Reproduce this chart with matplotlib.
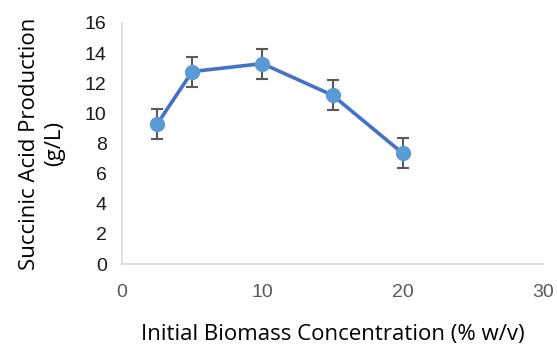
"""
Succinic acid production vs initial biomass concentration
"""
import matplotlib
matplotlib.use('Agg')
import matplotlib.pyplot as plt

#Data
biomass = [2.5, 5, 10, 15, 20]
succinic = [9.28, 12.77, 13.3, 11.2, 7.35]
err = [1.0, 1.0, 1.0, 1.0, 1.0]

x_ticks = [0, 10, 20, 30]
y_ticks = [0, 2, 4, 6, 8, 10, 12, 14, 16]

fig = plt.figure(figsize=(5.57, 3.47), dpi=100)
ax = fig.add_axes([0.219, 0.239, 0.756, 0.695])

ax.errorbar(biomass, succinic, yerr=err, color='#4472C4', lw=2.6,
            marker='o', ms=10, mfc='#5B9BD5', mec='#5B9BD5',
            ecolor='#595959', elinewidth=1.5, capsize=4, capthick=1.5, zorder=3)

ax.set_xlim(0, 30)
ax.set_ylim(0, 16)
ax.set_xticks(x_ticks)
ax.set_yticks(y_ticks)
ax.tick_params(length=0, labelsize=14, labelcolor='#595959')
ax.tick_params(axis='x', pad=14)
ax.tick_params(axis='y', labelcolor='#1a1a1a', pad=11)
for lab in ax.get_xticklabels() + ax.get_yticklabels():
	lab.set_family('Liberation Sans')

for s in ['top', 'right']:
	ax.spines[s].set_visible(False)
for s in ['left', 'bottom']:
	ax.spines[s].set_color('#d9d9d9')
	ax.spines[s].set_linewidth(1.2)

ax.set_xlabel('Initial Biomass Concentration (% w/v)', fontsize=16,
              family='Open Sans', weight='medium', labelpad=17)
ax.set_ylabel('Succinic Acid Production\n(g/L)', fontsize=16,
              family='Open Sans', weight='medium', labelpad=14, linespacing=1.3)

fig.savefig('out.png', dpi=100)
